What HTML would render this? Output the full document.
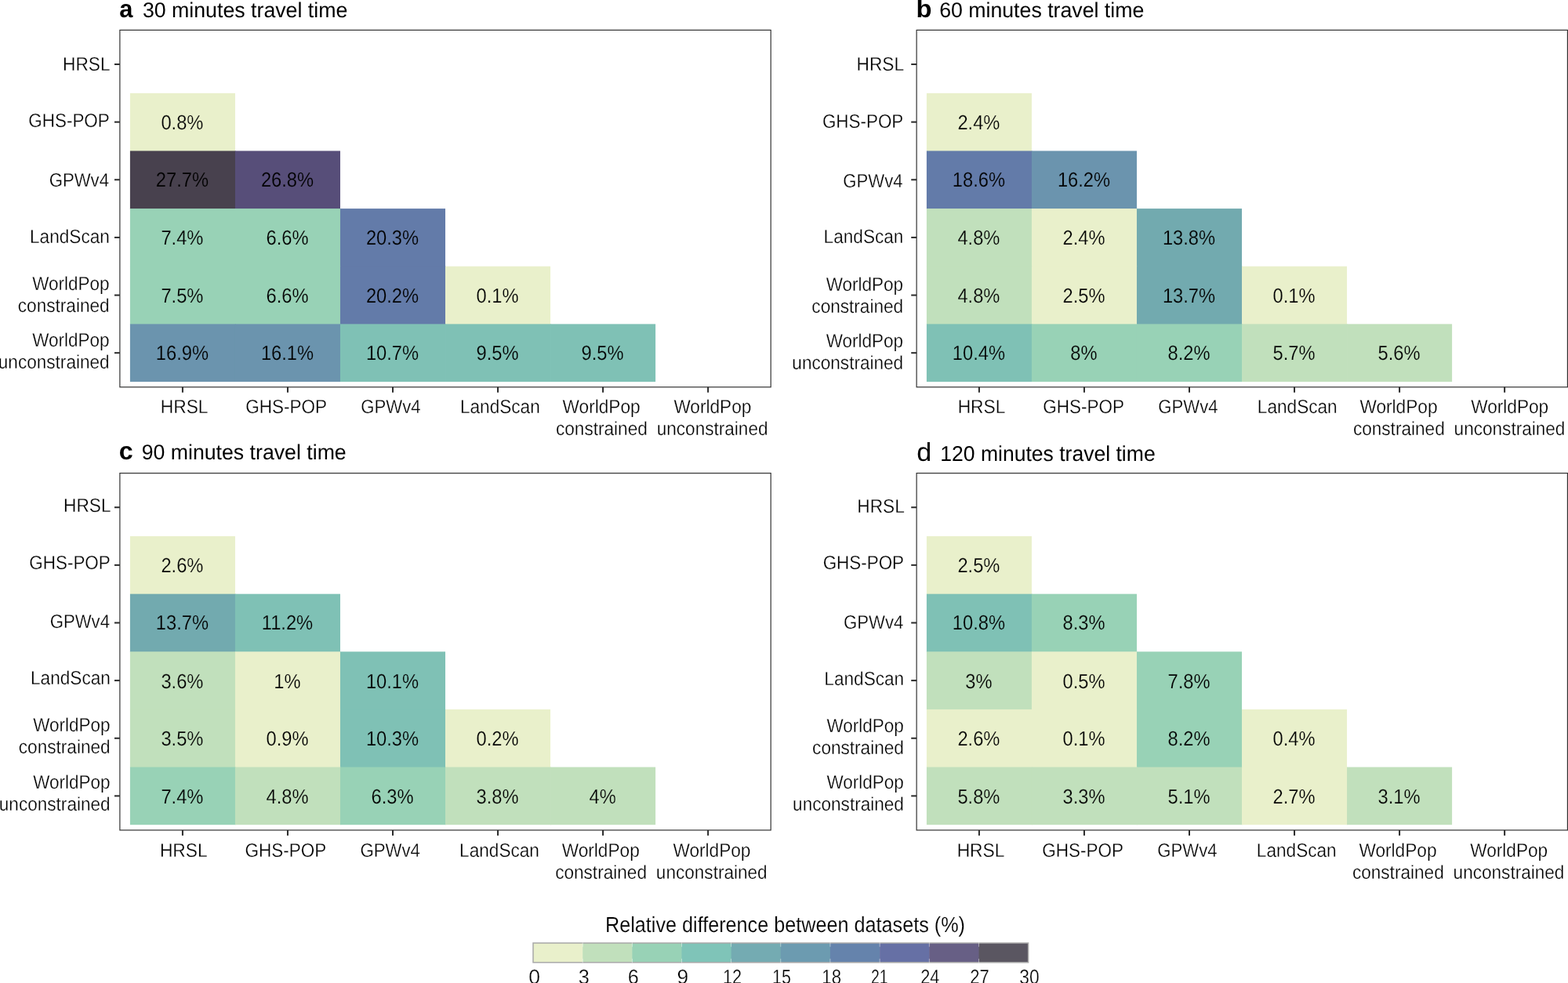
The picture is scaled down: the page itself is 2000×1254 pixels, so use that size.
<!DOCTYPE html>
<html lang="en">
<head>
<meta charset="utf-8">
<title>Relative difference between datasets by travel time</title>
<style>
html,body{margin:0;padding:0;background:#fff;}
body{width:2000px;height:1254px;overflow:hidden;}
svg{display:block;font-family:'Liberation Sans', sans-serif;}
text{fill:#000;text-rendering:geometricPrecision;}
</style>
</head>
<body>
<svg width="2000" height="1254" viewBox="0 0 2000 1254">
<rect width="2000" height="1254" fill="#fff"/>
<g>
<rect x="165.90" y="118.85" width="134.04" height="74.23" fill="#E9F0CB"/>
<rect x="165.90" y="192.48" width="134.64" height="74.23" fill="#48414E"/>
<rect x="299.94" y="192.48" width="134.04" height="74.23" fill="#574E79"/>
<rect x="165.90" y="266.11" width="134.64" height="74.23" fill="#98D2B6"/>
<rect x="299.94" y="266.11" width="134.64" height="74.23" fill="#98D2B6"/>
<rect x="433.98" y="266.11" width="134.04" height="74.23" fill="#637BA9"/>
<rect x="165.90" y="339.74" width="134.64" height="74.23" fill="#98D2B6"/>
<rect x="299.94" y="339.74" width="134.64" height="74.23" fill="#98D2B6"/>
<rect x="433.98" y="339.74" width="134.64" height="74.23" fill="#637BA9"/>
<rect x="568.02" y="339.74" width="134.04" height="74.23" fill="#E9F0CB"/>
<rect x="165.90" y="413.37" width="134.64" height="73.63" fill="#6B94AE"/>
<rect x="299.94" y="413.37" width="134.64" height="73.63" fill="#6B94AE"/>
<rect x="433.98" y="413.37" width="134.64" height="73.63" fill="#7FC1B5"/>
<rect x="568.02" y="413.37" width="134.64" height="73.63" fill="#7FC1B5"/>
<rect x="702.06" y="413.37" width="134.04" height="73.63" fill="#7FC1B5"/>
<rect x="152.88" y="38.40" width="830.30" height="455.40" fill="none" stroke="#333" stroke-width="1.2"/>
<g fill="#2b2b2b"><rect x="145.97" y="81.03" width="6.90" height="2.00"/><rect x="231.92" y="493.80" width="2.00" height="6.90"/><rect x="145.97" y="154.66" width="6.90" height="2.00"/><rect x="365.96" y="493.80" width="2.00" height="6.90"/><rect x="145.97" y="228.29" width="6.90" height="2.00"/><rect x="500.00" y="493.80" width="2.00" height="6.90"/><rect x="145.97" y="301.92" width="6.90" height="2.00"/><rect x="634.04" y="493.80" width="2.00" height="6.90"/><rect x="145.97" y="375.55" width="6.90" height="2.00"/><rect x="768.08" y="493.80" width="2.00" height="6.90"/><rect x="145.97" y="449.18" width="6.90" height="2.00"/><rect x="902.12" y="493.80" width="2.00" height="6.90"/></g>
</g>
<g>
<rect x="1181.90" y="118.85" width="134.04" height="74.23" fill="#E9F0CB"/>
<rect x="1181.90" y="192.48" width="134.64" height="74.23" fill="#637BA9"/>
<rect x="1315.94" y="192.48" width="134.04" height="74.23" fill="#6B94AE"/>
<rect x="1181.90" y="266.11" width="134.64" height="74.23" fill="#C1E0BC"/>
<rect x="1315.94" y="266.11" width="134.64" height="74.23" fill="#E9F0CB"/>
<rect x="1449.98" y="266.11" width="134.04" height="74.23" fill="#72AAAF"/>
<rect x="1181.90" y="339.74" width="134.64" height="74.23" fill="#C1E0BC"/>
<rect x="1315.94" y="339.74" width="134.64" height="74.23" fill="#E9F0CB"/>
<rect x="1449.98" y="339.74" width="134.64" height="74.23" fill="#72AAAF"/>
<rect x="1584.02" y="339.74" width="134.04" height="74.23" fill="#E9F0CB"/>
<rect x="1181.90" y="413.37" width="134.64" height="73.63" fill="#7FC1B5"/>
<rect x="1315.94" y="413.37" width="134.64" height="73.63" fill="#98D2B6"/>
<rect x="1449.98" y="413.37" width="134.64" height="73.63" fill="#98D2B6"/>
<rect x="1584.02" y="413.37" width="134.64" height="73.63" fill="#C1E0BC"/>
<rect x="1718.06" y="413.37" width="134.04" height="73.63" fill="#C1E0BC"/>
<rect x="1169.12" y="38.40" width="830.30" height="455.40" fill="none" stroke="#333" stroke-width="1.2"/>
<g fill="#2b2b2b"><rect x="1162.22" y="81.03" width="6.90" height="2.00"/><rect x="1247.92" y="493.80" width="2.00" height="6.90"/><rect x="1162.22" y="154.66" width="6.90" height="2.00"/><rect x="1381.96" y="493.80" width="2.00" height="6.90"/><rect x="1162.22" y="228.29" width="6.90" height="2.00"/><rect x="1516.00" y="493.80" width="2.00" height="6.90"/><rect x="1162.22" y="301.92" width="6.90" height="2.00"/><rect x="1650.04" y="493.80" width="2.00" height="6.90"/><rect x="1162.22" y="375.55" width="6.90" height="2.00"/><rect x="1784.08" y="493.80" width="2.00" height="6.90"/><rect x="1162.22" y="449.18" width="6.90" height="2.00"/><rect x="1918.12" y="493.80" width="2.00" height="6.90"/></g>
</g>
<g>
<rect x="165.90" y="684.05" width="134.04" height="74.23" fill="#E9F0CB"/>
<rect x="165.90" y="757.68" width="134.64" height="74.23" fill="#72AAAF"/>
<rect x="299.94" y="757.68" width="134.04" height="74.23" fill="#7FC1B5"/>
<rect x="165.90" y="831.31" width="134.64" height="74.23" fill="#C1E0BC"/>
<rect x="299.94" y="831.31" width="134.64" height="74.23" fill="#E9F0CB"/>
<rect x="433.98" y="831.31" width="134.04" height="74.23" fill="#7FC1B5"/>
<rect x="165.90" y="904.94" width="134.64" height="74.23" fill="#C1E0BC"/>
<rect x="299.94" y="904.94" width="134.64" height="74.23" fill="#E9F0CB"/>
<rect x="433.98" y="904.94" width="134.64" height="74.23" fill="#7FC1B5"/>
<rect x="568.02" y="904.94" width="134.04" height="74.23" fill="#E9F0CB"/>
<rect x="165.90" y="978.57" width="134.64" height="73.63" fill="#98D2B6"/>
<rect x="299.94" y="978.57" width="134.64" height="73.63" fill="#C1E0BC"/>
<rect x="433.98" y="978.57" width="134.64" height="73.63" fill="#98D2B6"/>
<rect x="568.02" y="978.57" width="134.64" height="73.63" fill="#C1E0BC"/>
<rect x="702.06" y="978.57" width="134.04" height="73.63" fill="#C1E0BC"/>
<rect x="152.88" y="603.60" width="830.30" height="455.40" fill="none" stroke="#333" stroke-width="1.2"/>
<g fill="#2b2b2b"><rect x="145.97" y="646.24" width="6.90" height="2.00"/><rect x="231.92" y="1059.00" width="2.00" height="6.90"/><rect x="145.97" y="719.87" width="6.90" height="2.00"/><rect x="365.96" y="1059.00" width="2.00" height="6.90"/><rect x="145.97" y="793.50" width="6.90" height="2.00"/><rect x="500.00" y="1059.00" width="2.00" height="6.90"/><rect x="145.97" y="867.12" width="6.90" height="2.00"/><rect x="634.04" y="1059.00" width="2.00" height="6.90"/><rect x="145.97" y="940.76" width="6.90" height="2.00"/><rect x="768.08" y="1059.00" width="2.00" height="6.90"/><rect x="145.97" y="1014.38" width="6.90" height="2.00"/><rect x="902.12" y="1059.00" width="2.00" height="6.90"/></g>
</g>
<g>
<rect x="1181.90" y="684.05" width="134.04" height="74.23" fill="#E9F0CB"/>
<rect x="1181.90" y="757.68" width="134.64" height="74.23" fill="#7FC1B5"/>
<rect x="1315.94" y="757.68" width="134.04" height="74.23" fill="#98D2B6"/>
<rect x="1181.90" y="831.31" width="134.64" height="74.23" fill="#C1E0BC"/>
<rect x="1315.94" y="831.31" width="134.64" height="74.23" fill="#E9F0CB"/>
<rect x="1449.98" y="831.31" width="134.04" height="74.23" fill="#98D2B6"/>
<rect x="1181.90" y="904.94" width="134.64" height="74.23" fill="#E9F0CB"/>
<rect x="1315.94" y="904.94" width="134.64" height="74.23" fill="#E9F0CB"/>
<rect x="1449.98" y="904.94" width="134.64" height="74.23" fill="#98D2B6"/>
<rect x="1584.02" y="904.94" width="134.04" height="74.23" fill="#E9F0CB"/>
<rect x="1181.90" y="978.57" width="134.64" height="73.63" fill="#C1E0BC"/>
<rect x="1315.94" y="978.57" width="134.64" height="73.63" fill="#C1E0BC"/>
<rect x="1449.98" y="978.57" width="134.64" height="73.63" fill="#C1E0BC"/>
<rect x="1584.02" y="978.57" width="134.64" height="73.63" fill="#E9F0CB"/>
<rect x="1718.06" y="978.57" width="134.04" height="73.63" fill="#C1E0BC"/>
<rect x="1169.12" y="603.60" width="830.30" height="455.40" fill="none" stroke="#333" stroke-width="1.2"/>
<g fill="#2b2b2b"><rect x="1162.22" y="646.24" width="6.90" height="2.00"/><rect x="1247.92" y="1059.00" width="2.00" height="6.90"/><rect x="1162.22" y="719.87" width="6.90" height="2.00"/><rect x="1381.96" y="1059.00" width="2.00" height="6.90"/><rect x="1162.22" y="793.50" width="6.90" height="2.00"/><rect x="1516.00" y="1059.00" width="2.00" height="6.90"/><rect x="1162.22" y="867.12" width="6.90" height="2.00"/><rect x="1650.04" y="1059.00" width="2.00" height="6.90"/><rect x="1162.22" y="940.76" width="6.90" height="2.00"/><rect x="1784.08" y="1059.00" width="2.00" height="6.90"/><rect x="1162.22" y="1014.38" width="6.90" height="2.00"/><rect x="1918.12" y="1059.00" width="2.00" height="6.90"/></g>
</g>
<g>
<rect x="680.00" y="1203.00" width="63.66" height="24.80" fill="#E9F0CB"/>
<rect x="743.16" y="1203.00" width="63.66" height="24.80" fill="#C1E0BC"/>
<rect x="806.32" y="1203.00" width="63.66" height="24.80" fill="#98D2B6"/>
<rect x="869.48" y="1203.00" width="63.66" height="24.80" fill="#7FC4B8"/>
<rect x="932.64" y="1203.00" width="63.66" height="24.80" fill="#74ABB2"/>
<rect x="995.80" y="1203.00" width="63.66" height="24.80" fill="#6C9BB0"/>
<rect x="1058.96" y="1203.00" width="63.66" height="24.80" fill="#6583AC"/>
<rect x="1122.12" y="1203.00" width="63.66" height="24.80" fill="#6670A5"/>
<rect x="1185.28" y="1203.00" width="63.66" height="24.80" fill="#675F85"/>
<rect x="1248.44" y="1203.00" width="63.16" height="24.80" fill="#5A5661"/>
<rect x="680.00" y="1203.00" width="631.60" height="24.80" fill="none" stroke="#A8A8A8" stroke-width="1.5"/>
<g fill="#fff" fill-opacity="0.55"><rect x="742.76" y="1202.25" width="0.80" height="5.50"/><rect x="742.76" y="1223.05" width="0.80" height="5.50"/><rect x="805.92" y="1202.25" width="0.80" height="5.50"/><rect x="805.92" y="1223.05" width="0.80" height="5.50"/><rect x="869.08" y="1202.25" width="0.80" height="5.50"/><rect x="869.08" y="1223.05" width="0.80" height="5.50"/><rect x="932.24" y="1202.25" width="0.80" height="5.50"/><rect x="932.24" y="1223.05" width="0.80" height="5.50"/><rect x="995.40" y="1202.25" width="0.80" height="5.50"/><rect x="995.40" y="1223.05" width="0.80" height="5.50"/><rect x="1058.56" y="1202.25" width="0.80" height="5.50"/><rect x="1058.56" y="1223.05" width="0.80" height="5.50"/><rect x="1121.72" y="1202.25" width="0.80" height="5.50"/><rect x="1121.72" y="1223.05" width="0.80" height="5.50"/><rect x="1184.88" y="1202.25" width="0.80" height="5.50"/><rect x="1184.88" y="1223.05" width="0.80" height="5.50"/><rect x="1248.04" y="1202.25" width="0.80" height="5.50"/><rect x="1248.04" y="1223.05" width="0.80" height="5.50"/></g>
</g>
<g>
<text x="232.42" y="165.00" font-size="26" text-anchor="middle" textLength="53.99" lengthAdjust="spacingAndGlyphs" stroke="#E9F0CB" stroke-width="0.22">0.8%</text>
<text x="232.42" y="238.00" font-size="26" text-anchor="middle" textLength="67.17" lengthAdjust="spacingAndGlyphs" stroke="#48414E" stroke-width="0.22">27.7%</text>
<text x="366.46" y="238.00" font-size="26" text-anchor="middle" textLength="67.17" lengthAdjust="spacingAndGlyphs" stroke="#574E79" stroke-width="0.22">26.8%</text>
<text x="232.42" y="312.00" font-size="26" text-anchor="middle" textLength="53.99" lengthAdjust="spacingAndGlyphs" stroke="#98D2B6" stroke-width="0.22">7.4%</text>
<text x="366.46" y="312.00" font-size="26" text-anchor="middle" textLength="53.99" lengthAdjust="spacingAndGlyphs" stroke="#98D2B6" stroke-width="0.22">6.6%</text>
<text x="500.50" y="312.00" font-size="26" text-anchor="middle" textLength="67.17" lengthAdjust="spacingAndGlyphs" stroke="#637BA9" stroke-width="0.22">20.3%</text>
<text x="232.42" y="386.00" font-size="26" text-anchor="middle" textLength="53.99" lengthAdjust="spacingAndGlyphs" stroke="#98D2B6" stroke-width="0.22">7.5%</text>
<text x="366.46" y="386.00" font-size="26" text-anchor="middle" textLength="53.99" lengthAdjust="spacingAndGlyphs" stroke="#98D2B6" stroke-width="0.22">6.6%</text>
<text x="500.50" y="386.00" font-size="26" text-anchor="middle" textLength="67.17" lengthAdjust="spacingAndGlyphs" stroke="#637BA9" stroke-width="0.22">20.2%</text>
<text x="634.54" y="386.00" font-size="26" text-anchor="middle" textLength="53.99" lengthAdjust="spacingAndGlyphs" stroke="#E9F0CB" stroke-width="0.22">0.1%</text>
<text x="232.42" y="459.00" font-size="26" text-anchor="middle" textLength="67.17" lengthAdjust="spacingAndGlyphs" stroke="#6B94AE" stroke-width="0.22">16.9%</text>
<text x="366.46" y="459.00" font-size="26" text-anchor="middle" textLength="67.17" lengthAdjust="spacingAndGlyphs" stroke="#6B94AE" stroke-width="0.22">16.1%</text>
<text x="500.50" y="459.00" font-size="26" text-anchor="middle" textLength="67.17" lengthAdjust="spacingAndGlyphs" stroke="#7FC1B5" stroke-width="0.22">10.7%</text>
<text x="634.54" y="459.00" font-size="26" text-anchor="middle" textLength="53.99" lengthAdjust="spacingAndGlyphs" stroke="#7FC1B5" stroke-width="0.22">9.5%</text>
<text x="768.58" y="459.00" font-size="26" text-anchor="middle" textLength="53.99" lengthAdjust="spacingAndGlyphs" stroke="#7FC1B5" stroke-width="0.22">9.5%</text>
<text x="80.05" y="90.00" font-size="24.5" textLength="60.44" lengthAdjust="spacingAndGlyphs" stroke="#ffffff" stroke-width="0.3">HRSL</text>
<text x="36.36" y="162.00" font-size="24.5" textLength="103.39" lengthAdjust="spacingAndGlyphs" stroke="#ffffff" stroke-width="0.3">GHS-POP</text>
<text x="62.67" y="238.00" font-size="24.5" textLength="76.32" lengthAdjust="spacingAndGlyphs" stroke="#ffffff" stroke-width="0.3">GPWv4</text>
<text x="38.05" y="310.00" font-size="24.5" textLength="101.83" lengthAdjust="spacingAndGlyphs" stroke="#ffffff" stroke-width="0.3">LandScan</text>
<text x="41.19" y="370.00" font-size="24.5" textLength="98.25" lengthAdjust="spacingAndGlyphs" stroke="#ffffff" stroke-width="0.3">WorldPop</text>
<text x="22.78" y="398.00" font-size="24.5" textLength="116.85" lengthAdjust="spacingAndGlyphs" stroke="#ffffff" stroke-width="0.3">constrained</text>
<text x="41.19" y="442.00" font-size="24.5" textLength="98.25" lengthAdjust="spacingAndGlyphs" stroke="#ffffff" stroke-width="0.3">WorldPop</text>
<text x="-2.20" y="470.00" font-size="24.5" textLength="141.82" lengthAdjust="spacingAndGlyphs" stroke="#ffffff" stroke-width="0.3">unconstrained</text>
<text x="204.74" y="527.00" font-size="24.5" textLength="60.81" lengthAdjust="spacingAndGlyphs" stroke="#ffffff" stroke-width="0.3">HRSL</text>
<text x="313.35" y="527.00" font-size="24.5" textLength="103.75" lengthAdjust="spacingAndGlyphs" stroke="#ffffff" stroke-width="0.3">GHS-POP</text>
<text x="460.27" y="527.00" font-size="24.5" textLength="76.43" lengthAdjust="spacingAndGlyphs" stroke="#ffffff" stroke-width="0.3">GPWv4</text>
<text x="586.95" y="527.00" font-size="24.5" textLength="101.83" lengthAdjust="spacingAndGlyphs" stroke="#ffffff" stroke-width="0.3">LandScan</text>
<text x="717.58" y="527.00" font-size="24.5" textLength="99.05" lengthAdjust="spacingAndGlyphs" stroke="#ffffff" stroke-width="0.3">WorldPop</text>
<text x="708.98" y="555.00" font-size="24.5" textLength="116.85" lengthAdjust="spacingAndGlyphs" stroke="#ffffff" stroke-width="0.3">constrained</text>
<text x="859.38" y="527.00" font-size="24.5" textLength="98.95" lengthAdjust="spacingAndGlyphs" stroke="#ffffff" stroke-width="0.3">WorldPop</text>
<text x="837.70" y="555.00" font-size="24.5" textLength="141.82" lengthAdjust="spacingAndGlyphs" stroke="#ffffff" stroke-width="0.3">unconstrained</text>
<text x="152.24" y="22.00" font-size="31.6" font-weight="bold" textLength="17.19" lengthAdjust="spacingAndGlyphs">a</text>
<text x="181.91" y="22.00" font-size="27" textLength="261.41" lengthAdjust="spacingAndGlyphs">30 minutes travel time</text>
<text x="1248.42" y="165.00" font-size="26" text-anchor="middle" textLength="53.99" lengthAdjust="spacingAndGlyphs" stroke="#E9F0CB" stroke-width="0.22">2.4%</text>
<text x="1248.42" y="238.00" font-size="26" text-anchor="middle" textLength="67.17" lengthAdjust="spacingAndGlyphs" stroke="#637BA9" stroke-width="0.22">18.6%</text>
<text x="1382.46" y="238.00" font-size="26" text-anchor="middle" textLength="67.17" lengthAdjust="spacingAndGlyphs" stroke="#6B94AE" stroke-width="0.22">16.2%</text>
<text x="1248.42" y="312.00" font-size="26" text-anchor="middle" textLength="53.99" lengthAdjust="spacingAndGlyphs" stroke="#C1E0BC" stroke-width="0.22">4.8%</text>
<text x="1382.46" y="312.00" font-size="26" text-anchor="middle" textLength="53.99" lengthAdjust="spacingAndGlyphs" stroke="#E9F0CB" stroke-width="0.22">2.4%</text>
<text x="1516.50" y="312.00" font-size="26" text-anchor="middle" textLength="67.17" lengthAdjust="spacingAndGlyphs" stroke="#72AAAF" stroke-width="0.22">13.8%</text>
<text x="1248.42" y="386.00" font-size="26" text-anchor="middle" textLength="53.99" lengthAdjust="spacingAndGlyphs" stroke="#C1E0BC" stroke-width="0.22">4.8%</text>
<text x="1382.46" y="386.00" font-size="26" text-anchor="middle" textLength="53.99" lengthAdjust="spacingAndGlyphs" stroke="#E9F0CB" stroke-width="0.22">2.5%</text>
<text x="1516.50" y="386.00" font-size="26" text-anchor="middle" textLength="67.17" lengthAdjust="spacingAndGlyphs" stroke="#72AAAF" stroke-width="0.22">13.7%</text>
<text x="1650.54" y="386.00" font-size="26" text-anchor="middle" textLength="53.99" lengthAdjust="spacingAndGlyphs" stroke="#E9F0CB" stroke-width="0.22">0.1%</text>
<text x="1248.42" y="459.00" font-size="26" text-anchor="middle" textLength="67.17" lengthAdjust="spacingAndGlyphs" stroke="#7FC1B5" stroke-width="0.22">10.4%</text>
<text x="1382.46" y="459.00" font-size="26" text-anchor="middle" textLength="34.23" lengthAdjust="spacingAndGlyphs" stroke="#98D2B6" stroke-width="0.22">8%</text>
<text x="1516.50" y="459.00" font-size="26" text-anchor="middle" textLength="53.99" lengthAdjust="spacingAndGlyphs" stroke="#98D2B6" stroke-width="0.22">8.2%</text>
<text x="1650.54" y="459.00" font-size="26" text-anchor="middle" textLength="53.99" lengthAdjust="spacingAndGlyphs" stroke="#C1E0BC" stroke-width="0.22">5.7%</text>
<text x="1784.58" y="459.00" font-size="26" text-anchor="middle" textLength="53.99" lengthAdjust="spacingAndGlyphs" stroke="#C1E0BC" stroke-width="0.22">5.6%</text>
<text x="1092.60" y="90.00" font-size="24.5" textLength="60.44" lengthAdjust="spacingAndGlyphs" stroke="#ffffff" stroke-width="0.3">HRSL</text>
<text x="1048.91" y="163.00" font-size="24.5" textLength="103.39" lengthAdjust="spacingAndGlyphs" stroke="#ffffff" stroke-width="0.3">GHS-POP</text>
<text x="1075.22" y="239.00" font-size="24.5" textLength="76.32" lengthAdjust="spacingAndGlyphs" stroke="#ffffff" stroke-width="0.3">GPWv4</text>
<text x="1050.60" y="310.00" font-size="24.5" textLength="101.83" lengthAdjust="spacingAndGlyphs" stroke="#ffffff" stroke-width="0.3">LandScan</text>
<text x="1053.74" y="371.00" font-size="24.5" textLength="98.25" lengthAdjust="spacingAndGlyphs" stroke="#ffffff" stroke-width="0.3">WorldPop</text>
<text x="1035.33" y="399.00" font-size="24.5" textLength="116.85" lengthAdjust="spacingAndGlyphs" stroke="#ffffff" stroke-width="0.3">constrained</text>
<text x="1053.74" y="443.00" font-size="24.5" textLength="98.25" lengthAdjust="spacingAndGlyphs" stroke="#ffffff" stroke-width="0.3">WorldPop</text>
<text x="1010.35" y="471.00" font-size="24.5" textLength="141.82" lengthAdjust="spacingAndGlyphs" stroke="#ffffff" stroke-width="0.3">unconstrained</text>
<text x="1221.64" y="527.00" font-size="24.5" textLength="60.81" lengthAdjust="spacingAndGlyphs" stroke="#ffffff" stroke-width="0.3">HRSL</text>
<text x="1330.25" y="527.00" font-size="24.5" textLength="103.75" lengthAdjust="spacingAndGlyphs" stroke="#ffffff" stroke-width="0.3">GHS-POP</text>
<text x="1477.17" y="527.00" font-size="24.5" textLength="76.43" lengthAdjust="spacingAndGlyphs" stroke="#ffffff" stroke-width="0.3">GPWv4</text>
<text x="1603.85" y="527.00" font-size="24.5" textLength="101.83" lengthAdjust="spacingAndGlyphs" stroke="#ffffff" stroke-width="0.3">LandScan</text>
<text x="1734.48" y="527.00" font-size="24.5" textLength="99.05" lengthAdjust="spacingAndGlyphs" stroke="#ffffff" stroke-width="0.3">WorldPop</text>
<text x="1725.88" y="555.00" font-size="24.5" textLength="116.85" lengthAdjust="spacingAndGlyphs" stroke="#ffffff" stroke-width="0.3">constrained</text>
<text x="1876.28" y="527.00" font-size="24.5" textLength="98.95" lengthAdjust="spacingAndGlyphs" stroke="#ffffff" stroke-width="0.3">WorldPop</text>
<text x="1854.60" y="555.00" font-size="24.5" textLength="141.82" lengthAdjust="spacingAndGlyphs" stroke="#ffffff" stroke-width="0.3">unconstrained</text>
<text x="1168.49" y="22.00" font-size="31.6" font-weight="bold" textLength="20.07" lengthAdjust="spacingAndGlyphs">b</text>
<text x="1198.14" y="22.00" font-size="27" textLength="261.18" lengthAdjust="spacingAndGlyphs">60 minutes travel time</text>
<text x="232.42" y="730.00" font-size="26" text-anchor="middle" textLength="53.99" lengthAdjust="spacingAndGlyphs" stroke="#E9F0CB" stroke-width="0.22">2.6%</text>
<text x="232.42" y="803.00" font-size="26" text-anchor="middle" textLength="67.17" lengthAdjust="spacingAndGlyphs" stroke="#72AAAF" stroke-width="0.22">13.7%</text>
<text x="366.46" y="803.00" font-size="26" text-anchor="middle" textLength="65.41" lengthAdjust="spacingAndGlyphs" stroke="#7FC1B5" stroke-width="0.22">11.2%</text>
<text x="232.42" y="878.00" font-size="26" text-anchor="middle" textLength="53.99" lengthAdjust="spacingAndGlyphs" stroke="#C1E0BC" stroke-width="0.22">3.6%</text>
<text x="366.46" y="878.00" font-size="26" text-anchor="middle" textLength="34.23" lengthAdjust="spacingAndGlyphs" stroke="#E9F0CB" stroke-width="0.22">1%</text>
<text x="500.50" y="878.00" font-size="26" text-anchor="middle" textLength="67.17" lengthAdjust="spacingAndGlyphs" stroke="#7FC1B5" stroke-width="0.22">10.1%</text>
<text x="232.42" y="951.00" font-size="26" text-anchor="middle" textLength="53.99" lengthAdjust="spacingAndGlyphs" stroke="#C1E0BC" stroke-width="0.22">3.5%</text>
<text x="366.46" y="951.00" font-size="26" text-anchor="middle" textLength="53.99" lengthAdjust="spacingAndGlyphs" stroke="#E9F0CB" stroke-width="0.22">0.9%</text>
<text x="500.50" y="951.00" font-size="26" text-anchor="middle" textLength="67.17" lengthAdjust="spacingAndGlyphs" stroke="#7FC1B5" stroke-width="0.22">10.3%</text>
<text x="634.54" y="951.00" font-size="26" text-anchor="middle" textLength="53.99" lengthAdjust="spacingAndGlyphs" stroke="#E9F0CB" stroke-width="0.22">0.2%</text>
<text x="232.42" y="1025.00" font-size="26" text-anchor="middle" textLength="53.99" lengthAdjust="spacingAndGlyphs" stroke="#98D2B6" stroke-width="0.22">7.4%</text>
<text x="366.46" y="1025.00" font-size="26" text-anchor="middle" textLength="53.99" lengthAdjust="spacingAndGlyphs" stroke="#C1E0BC" stroke-width="0.22">4.8%</text>
<text x="500.50" y="1025.00" font-size="26" text-anchor="middle" textLength="53.99" lengthAdjust="spacingAndGlyphs" stroke="#98D2B6" stroke-width="0.22">6.3%</text>
<text x="634.54" y="1025.00" font-size="26" text-anchor="middle" textLength="53.99" lengthAdjust="spacingAndGlyphs" stroke="#C1E0BC" stroke-width="0.22">3.8%</text>
<text x="768.58" y="1025.00" font-size="26" text-anchor="middle" textLength="34.23" lengthAdjust="spacingAndGlyphs" stroke="#C1E0BC" stroke-width="0.22">4%</text>
<text x="81.05" y="653.00" font-size="24.5" textLength="60.44" lengthAdjust="spacingAndGlyphs" stroke="#ffffff" stroke-width="0.3">HRSL</text>
<text x="37.36" y="726.00" font-size="24.5" textLength="103.39" lengthAdjust="spacingAndGlyphs" stroke="#ffffff" stroke-width="0.3">GHS-POP</text>
<text x="63.67" y="801.00" font-size="24.5" textLength="76.32" lengthAdjust="spacingAndGlyphs" stroke="#ffffff" stroke-width="0.3">GPWv4</text>
<text x="39.05" y="873.00" font-size="24.5" textLength="101.83" lengthAdjust="spacingAndGlyphs" stroke="#ffffff" stroke-width="0.3">LandScan</text>
<text x="42.19" y="933.00" font-size="24.5" textLength="98.25" lengthAdjust="spacingAndGlyphs" stroke="#ffffff" stroke-width="0.3">WorldPop</text>
<text x="23.78" y="961.00" font-size="24.5" textLength="116.85" lengthAdjust="spacingAndGlyphs" stroke="#ffffff" stroke-width="0.3">constrained</text>
<text x="42.19" y="1006.00" font-size="24.5" textLength="98.25" lengthAdjust="spacingAndGlyphs" stroke="#ffffff" stroke-width="0.3">WorldPop</text>
<text x="-1.20" y="1034.00" font-size="24.5" textLength="141.82" lengthAdjust="spacingAndGlyphs" stroke="#ffffff" stroke-width="0.3">unconstrained</text>
<text x="203.89" y="1093.00" font-size="24.5" textLength="60.81" lengthAdjust="spacingAndGlyphs" stroke="#ffffff" stroke-width="0.3">HRSL</text>
<text x="312.50" y="1093.00" font-size="24.5" textLength="103.75" lengthAdjust="spacingAndGlyphs" stroke="#ffffff" stroke-width="0.3">GHS-POP</text>
<text x="459.42" y="1093.00" font-size="24.5" textLength="76.43" lengthAdjust="spacingAndGlyphs" stroke="#ffffff" stroke-width="0.3">GPWv4</text>
<text x="586.10" y="1093.00" font-size="24.5" textLength="101.83" lengthAdjust="spacingAndGlyphs" stroke="#ffffff" stroke-width="0.3">LandScan</text>
<text x="716.73" y="1093.00" font-size="24.5" textLength="99.05" lengthAdjust="spacingAndGlyphs" stroke="#ffffff" stroke-width="0.3">WorldPop</text>
<text x="708.13" y="1121.00" font-size="24.5" textLength="116.85" lengthAdjust="spacingAndGlyphs" stroke="#ffffff" stroke-width="0.3">constrained</text>
<text x="858.53" y="1093.00" font-size="24.5" textLength="98.95" lengthAdjust="spacingAndGlyphs" stroke="#ffffff" stroke-width="0.3">WorldPop</text>
<text x="836.85" y="1121.00" font-size="24.5" textLength="141.82" lengthAdjust="spacingAndGlyphs" stroke="#ffffff" stroke-width="0.3">unconstrained</text>
<text x="151.82" y="586.00" font-size="31.6" font-weight="bold" textLength="17.95" lengthAdjust="spacingAndGlyphs">c</text>
<text x="180.66" y="586.00" font-size="27" textLength="261.06" lengthAdjust="spacingAndGlyphs">90 minutes travel time</text>
<text x="1248.42" y="730.00" font-size="26" text-anchor="middle" textLength="53.99" lengthAdjust="spacingAndGlyphs" stroke="#E9F0CB" stroke-width="0.22">2.5%</text>
<text x="1248.42" y="803.00" font-size="26" text-anchor="middle" textLength="67.17" lengthAdjust="spacingAndGlyphs" stroke="#7FC1B5" stroke-width="0.22">10.8%</text>
<text x="1382.46" y="803.00" font-size="26" text-anchor="middle" textLength="53.99" lengthAdjust="spacingAndGlyphs" stroke="#98D2B6" stroke-width="0.22">8.3%</text>
<text x="1248.42" y="878.00" font-size="26" text-anchor="middle" textLength="34.23" lengthAdjust="spacingAndGlyphs" stroke="#C1E0BC" stroke-width="0.22">3%</text>
<text x="1382.46" y="878.00" font-size="26" text-anchor="middle" textLength="53.99" lengthAdjust="spacingAndGlyphs" stroke="#E9F0CB" stroke-width="0.22">0.5%</text>
<text x="1516.50" y="878.00" font-size="26" text-anchor="middle" textLength="53.99" lengthAdjust="spacingAndGlyphs" stroke="#98D2B6" stroke-width="0.22">7.8%</text>
<text x="1248.42" y="951.00" font-size="26" text-anchor="middle" textLength="53.99" lengthAdjust="spacingAndGlyphs" stroke="#E9F0CB" stroke-width="0.22">2.6%</text>
<text x="1382.46" y="951.00" font-size="26" text-anchor="middle" textLength="53.99" lengthAdjust="spacingAndGlyphs" stroke="#E9F0CB" stroke-width="0.22">0.1%</text>
<text x="1516.50" y="951.00" font-size="26" text-anchor="middle" textLength="53.99" lengthAdjust="spacingAndGlyphs" stroke="#98D2B6" stroke-width="0.22">8.2%</text>
<text x="1650.54" y="951.00" font-size="26" text-anchor="middle" textLength="53.99" lengthAdjust="spacingAndGlyphs" stroke="#E9F0CB" stroke-width="0.22">0.4%</text>
<text x="1248.42" y="1025.00" font-size="26" text-anchor="middle" textLength="53.99" lengthAdjust="spacingAndGlyphs" stroke="#C1E0BC" stroke-width="0.22">5.8%</text>
<text x="1382.46" y="1025.00" font-size="26" text-anchor="middle" textLength="53.99" lengthAdjust="spacingAndGlyphs" stroke="#C1E0BC" stroke-width="0.22">3.3%</text>
<text x="1516.50" y="1025.00" font-size="26" text-anchor="middle" textLength="53.99" lengthAdjust="spacingAndGlyphs" stroke="#C1E0BC" stroke-width="0.22">5.1%</text>
<text x="1650.54" y="1025.00" font-size="26" text-anchor="middle" textLength="53.99" lengthAdjust="spacingAndGlyphs" stroke="#E9F0CB" stroke-width="0.22">2.7%</text>
<text x="1784.58" y="1025.00" font-size="26" text-anchor="middle" textLength="53.99" lengthAdjust="spacingAndGlyphs" stroke="#C1E0BC" stroke-width="0.22">3.1%</text>
<text x="1093.35" y="654.00" font-size="24.5" textLength="60.44" lengthAdjust="spacingAndGlyphs" stroke="#ffffff" stroke-width="0.3">HRSL</text>
<text x="1049.66" y="726.00" font-size="24.5" textLength="103.39" lengthAdjust="spacingAndGlyphs" stroke="#ffffff" stroke-width="0.3">GHS-POP</text>
<text x="1075.97" y="802.00" font-size="24.5" textLength="76.32" lengthAdjust="spacingAndGlyphs" stroke="#ffffff" stroke-width="0.3">GPWv4</text>
<text x="1051.35" y="874.00" font-size="24.5" textLength="101.83" lengthAdjust="spacingAndGlyphs" stroke="#ffffff" stroke-width="0.3">LandScan</text>
<text x="1054.49" y="934.00" font-size="24.5" textLength="98.25" lengthAdjust="spacingAndGlyphs" stroke="#ffffff" stroke-width="0.3">WorldPop</text>
<text x="1036.08" y="962.00" font-size="24.5" textLength="116.85" lengthAdjust="spacingAndGlyphs" stroke="#ffffff" stroke-width="0.3">constrained</text>
<text x="1054.49" y="1006.00" font-size="24.5" textLength="98.25" lengthAdjust="spacingAndGlyphs" stroke="#ffffff" stroke-width="0.3">WorldPop</text>
<text x="1011.10" y="1034.00" font-size="24.5" textLength="141.82" lengthAdjust="spacingAndGlyphs" stroke="#ffffff" stroke-width="0.3">unconstrained</text>
<text x="1220.64" y="1093.00" font-size="24.5" textLength="60.81" lengthAdjust="spacingAndGlyphs" stroke="#ffffff" stroke-width="0.3">HRSL</text>
<text x="1329.25" y="1093.00" font-size="24.5" textLength="103.75" lengthAdjust="spacingAndGlyphs" stroke="#ffffff" stroke-width="0.3">GHS-POP</text>
<text x="1476.17" y="1093.00" font-size="24.5" textLength="76.43" lengthAdjust="spacingAndGlyphs" stroke="#ffffff" stroke-width="0.3">GPWv4</text>
<text x="1602.85" y="1093.00" font-size="24.5" textLength="101.83" lengthAdjust="spacingAndGlyphs" stroke="#ffffff" stroke-width="0.3">LandScan</text>
<text x="1733.48" y="1093.00" font-size="24.5" textLength="99.05" lengthAdjust="spacingAndGlyphs" stroke="#ffffff" stroke-width="0.3">WorldPop</text>
<text x="1724.88" y="1121.00" font-size="24.5" textLength="116.85" lengthAdjust="spacingAndGlyphs" stroke="#ffffff" stroke-width="0.3">constrained</text>
<text x="1875.28" y="1093.00" font-size="24.5" textLength="98.95" lengthAdjust="spacingAndGlyphs" stroke="#ffffff" stroke-width="0.3">WorldPop</text>
<text x="1853.60" y="1121.00" font-size="24.5" textLength="141.82" lengthAdjust="spacingAndGlyphs" stroke="#ffffff" stroke-width="0.3">unconstrained</text>
<text x="1169.38" y="588.00" font-size="33" textLength="19.01" lengthAdjust="spacingAndGlyphs">d</text>
<text x="1199.23" y="588.00" font-size="27.3" textLength="274.44" lengthAdjust="spacingAndGlyphs">120 minutes travel time</text>
<text x="674.18" y="1255.00" font-size="26" textLength="14.82" lengthAdjust="spacingAndGlyphs" stroke="#ffffff" stroke-width="0.3">0</text>
<text x="737.83" y="1255.00" font-size="26" textLength="14.03" lengthAdjust="spacingAndGlyphs" stroke="#ffffff" stroke-width="0.3">3</text>
<text x="800.67" y="1255.00" font-size="26" textLength="13.99" lengthAdjust="spacingAndGlyphs" stroke="#ffffff" stroke-width="0.3">6</text>
<text x="863.48" y="1255.00" font-size="26" textLength="14.65" lengthAdjust="spacingAndGlyphs" stroke="#ffffff" stroke-width="0.3">9</text>
<text x="922.03" y="1255.00" font-size="26" textLength="24.15" lengthAdjust="spacingAndGlyphs" stroke="#ffffff" stroke-width="0.3">12</text>
<text x="985.05" y="1255.00" font-size="26" textLength="23.92" lengthAdjust="spacingAndGlyphs" stroke="#ffffff" stroke-width="0.3">15</text>
<text x="1048.29" y="1255.00" font-size="26" textLength="24.71" lengthAdjust="spacingAndGlyphs" stroke="#ffffff" stroke-width="0.3">18</text>
<text x="1111.07" y="1255.00" font-size="26" textLength="21.49" lengthAdjust="spacingAndGlyphs" stroke="#ffffff" stroke-width="0.3">21</text>
<text x="1174.15" y="1255.00" font-size="26" textLength="24.21" lengthAdjust="spacingAndGlyphs" stroke="#ffffff" stroke-width="0.3">24</text>
<text x="1237.34" y="1255.00" font-size="26" textLength="24.45" lengthAdjust="spacingAndGlyphs" stroke="#ffffff" stroke-width="0.3">27</text>
<text x="1300.32" y="1255.00" font-size="26" textLength="25.40" lengthAdjust="spacingAndGlyphs" stroke="#ffffff" stroke-width="0.3">30</text>
<text x="771.96" y="1189.00" font-size="27.8" textLength="459.07" lengthAdjust="spacingAndGlyphs" stroke="#ffffff" stroke-width="0.15">Relative difference between datasets (%)</text>
</g>
</svg>
</body>
</html>
